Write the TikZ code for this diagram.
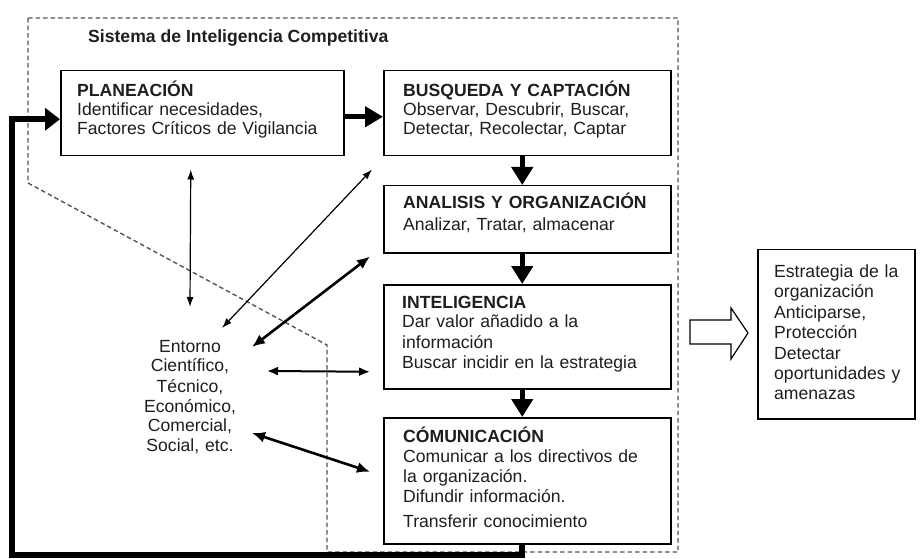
\documentclass[tikz,border=0pt]{standalone}
\usepackage{fontspec}
\setmainfont{Liberation Sans}
\usetikzlibrary{arrows.meta,calc}
\definecolor{txt}{HTML}{1E1E1E}
\definecolor{dashc}{HTML}{555555}
\begin{document}
\begin{tikzpicture}[x=1pt,y=-1pt,
  font=\fontsize{17.6}{20}\selectfont,
  boxnode/.style={draw,line width=1.5pt,anchor=north west,inner sep=0pt},
  boxtext/.style={anchor=base west,inner sep=0pt,text width=280pt,align=left,text=txt},
  flowarr/.style={line width=5.5pt,-{Triangle[length=18pt,width=21pt]}},
  thinarr/.style={line width=1.2pt,{Latex[length=10pt,width=7pt]}-{Latex[length=10pt,width=7pt]}},
  midarr/.style={line width=2pt,{Latex[length=11pt,width=9pt]}-{Latex[length=11pt,width=9pt]}},
  bigarr/.style={line width=2.6pt,{Latex[length=13pt,width=11pt]}-{Latex[length=13pt,width=11pt]}}]
\path[use as bounding box] (0,0) rectangle (922,559);

% system boundary
\draw[dashc,line width=1.4pt,dash pattern=on 4.5pt off 3pt]
  (28,18) -- (678,18) -- (678,552) -- (327,552) -- (327,345) -- (28,183) -- cycle;
\node[anchor=base west,inner sep=0pt,text=txt,font=\fontsize{17.6}{20}\selectfont\bfseries] (title) at (88,43) {Sistema de Inteligencia Competitiva};

% boxes
\node[boxnode,minimum width=283pt,minimum height=85pt] (plan) at (60,70) {};
\node[boxnode,minimum width=287pt,minimum height=85pt] (busq) at (383,70) {};
\node[boxnode,minimum width=287pt,minimum height=67pt] (anal) at (383,185) {};
\node[boxnode,minimum width=287pt,minimum height=104pt] (intel) at (383,284) {};
\node[boxnode,minimum width=287pt,minimum height=126pt] (comu) at (383,417) {};
\node[boxnode,minimum width=157pt,minimum height=169pt] (estr) at (757,249) {};

% box texts
\node[boxtext,font=\fontsize{17.6}{19}\selectfont] (plant) at (77,97)
  {\textbf{PLANEACIÓN}\\Identificar necesidades,\\Factores Críticos de Vigilancia};
\node[boxtext,font=\fontsize{17.6}{19}\selectfont] (busqt) at (403,97)
  {\textbf{BUSQUEDA Y CAPTACIÓN}\\Observar, Descubrir, Buscar,\\Detectar, Recolectar, Captar};
\node[boxtext,font=\fontsize{17.6}{21}\selectfont] (analt) at (403,209)
  {\textbf{ANALISIS Y ORGANIZACIÓN}\\Analizar, Tratar, almacenar};
\node[boxtext] (intelt) at (402,308)
  {\textbf{INTELIGENCIA}\\Dar valor añadido a la\\información\\Buscar incidir en la estrategia};
\node[boxtext] (comut) at (403,442)
  {\textbf{CÓMUNICACIÓN}\\Comunicar a los directivos de\\la organización.\\Difundir información.\\[5pt]Transferir conocimiento};
\node[boxtext,text width=150pt,font=\fontsize{17.6}{20.5}\selectfont] (estrt) at (774,277)
  {Estrategia de la\\organización\\Anticiparse,\\Protección\\Detectar\\oportunidades y\\amenazas};

% environment
\node[anchor=base,inner sep=0pt,text width=130pt,align=center,text=txt] (ent) at (190,352)
  {Entorno\\Científico,\\Técnico,\\Económico,\\Comercial,\\Social, etc.};

% main flow
\draw[line width=5.5pt,-{Triangle[length=18pt,width=20pt]}] ([yshift=-3.5pt]plan.east) -- ([yshift=-3.5pt]busq.west);
\draw[flowarr] ([xshift=-5pt]busq.south) -- ([xshift=-5pt]anal.north);
\draw[flowarr] ([xshift=-5pt]anal.south) -- ([xshift=-5pt]intel.north);
\draw[flowarr] ([xshift=-5pt]intel.south) -- ([xshift=-5pt]comu.north);

% feedback loop
\coordinate (fb) at (12,555);
\draw[line width=6pt,-{Triangle[length=15pt,width=22pt]}]
  ([xshift=-5pt]comu.south) |- (fb) |- ([yshift=-6pt]plan.west);

% environment links
\draw[thinarr] ([shift={(-11.5,13)}]plan.south) -- ([shift={(0,-45)}]ent.base);
\draw[thinarr] ([shift={(-11,13)}]busq.south west) -- ([shift={(32,-24)}]ent.base);
\draw[bigarr] ([shift={(-13,3)}]anal.south west) -- ([shift={(62,-5)}]ent.base);
\draw[midarr] ([shift={(77,19)}]ent.base) -- ([shift={(-13,35)}]intel.west);
\draw[bigarr] ([shift={(62,81)}]ent.base) -- ([shift={(-13,-9)}]comu.west);

% output arrow
\draw[line width=1.2pt,line join=miter]
  (690,320) -- (731,320) -- (731,308) -- (748,333) -- (731,359) -- (731,344) -- (690,344) -- cycle;
\end{tikzpicture}
\end{document}
